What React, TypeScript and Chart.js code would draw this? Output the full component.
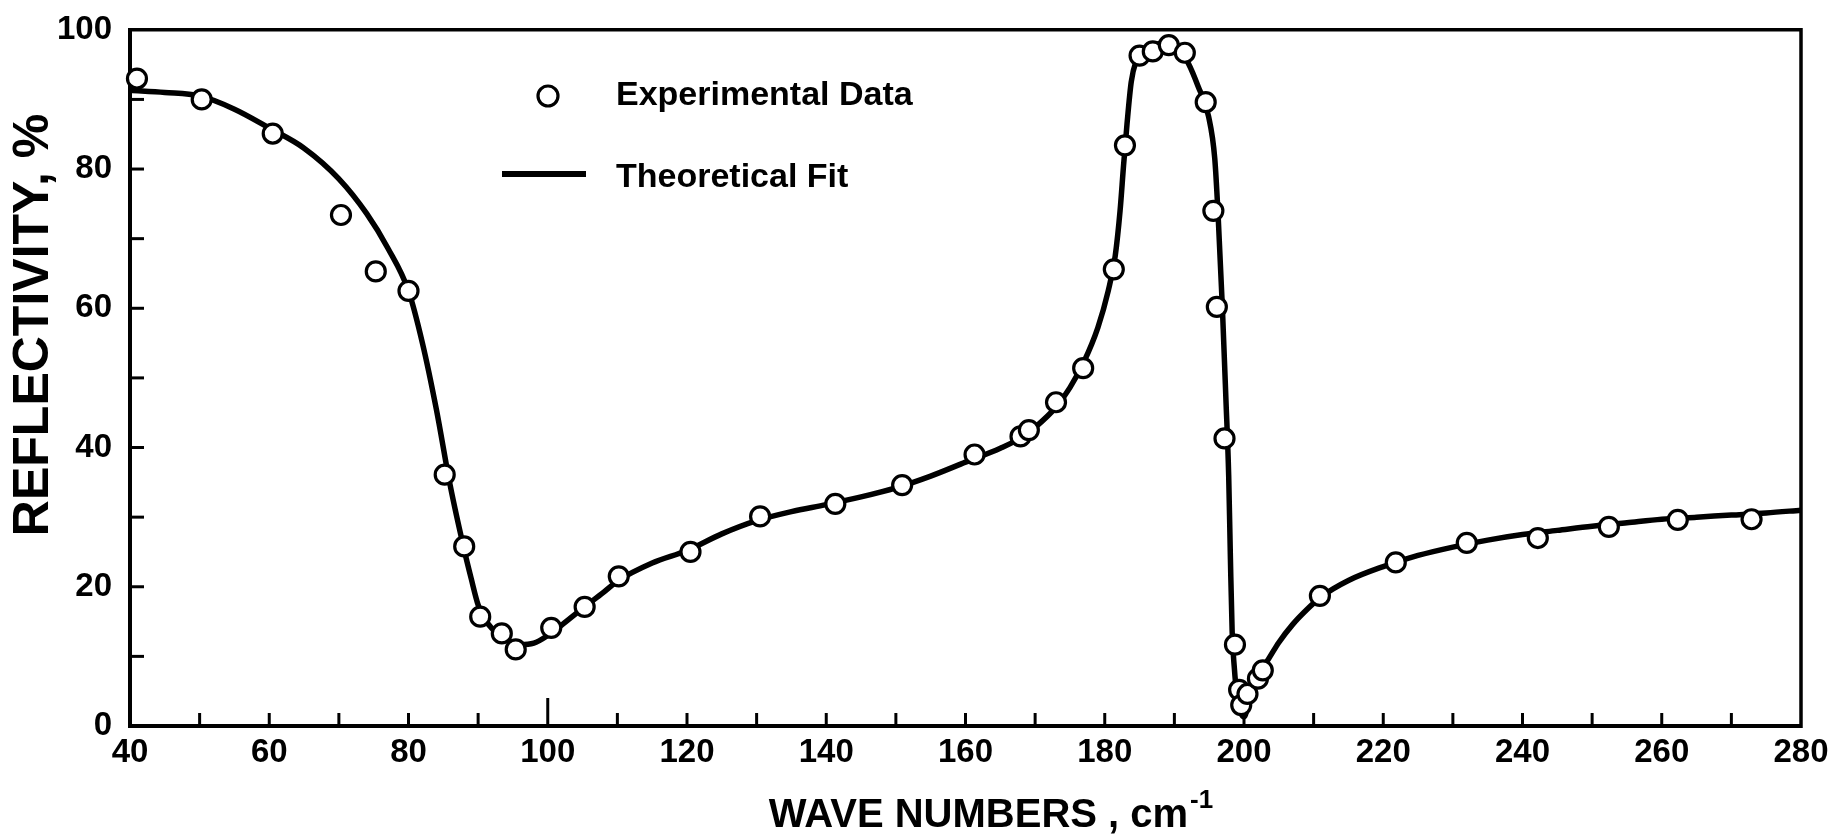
import React, { useEffect, useRef } from 'react';
import { Chart, registerables } from 'chart.js';

Chart.register(...registerables);

// ---- Data ----
const fitX = [
  40, 45, 50, 55, 60, 65, 70, 74, 77, 80, 82, 84, 86, 88, 89, 90, 91, 92, 94, 96, 98, 100, 102,
  105, 108, 110, 115, 120, 125, 130, 135, 140, 145, 150, 155, 160, 165, 168, 170, 173, 175, 177,
  179, 180.5, 181.5, 182.2, 182.7, 183.2, 183.8, 184.5, 185.5, 187, 189, 190.5, 192, 193.4, 194.9,
  195.8, 196.3, 196.9, 197.4, 197.8, 198.05, 198.3, 198.6, 199.0, 199.5, 200.0, 200.6, 201.3,
  202.3, 203.5, 205, 207, 209, 211, 215, 220, 225, 230, 235, 240, 245, 250, 255, 260, 265, 270,
  275, 280,
];
const fitY = [
  91.3, 91.0, 90.5, 88.6, 85.9, 83.0, 78.6, 73.6, 68.7, 62.5, 55.0, 45.5, 34.5, 25.3, 21.2, 17.4,
  15.3, 14.0, 12.4, 11.7, 11.9, 13.0, 14.5, 16.9, 19.2, 20.8, 23.4, 25.2, 27.6, 29.5, 30.8, 31.8,
  32.9, 34.2, 35.9, 37.9, 39.9, 41.4, 42.9, 45.8, 48.6, 52.3, 57.2, 62.5, 67.5, 74.0, 80.5, 86.5,
  92.5, 95.5, 96.9, 97.7, 98.3, 97.5, 95.2, 91.9, 87.6, 81.5, 73.0, 60.0, 47.0, 36.0, 24.0, 13.5,
  8.5, 4.2, 2.0, 1.3, 3.0, 5.8, 7.9, 9.6, 12.0, 14.6, 16.7, 18.5, 20.9, 22.9, 24.5, 25.7, 26.7,
  27.5, 28.1, 28.7, 29.2, 29.7, 30.0, 30.3, 30.6, 31.0,
];
const expX = [
  41.0, 50.3, 60.5, 70.3, 75.3, 80.0, 85.2, 88.0, 90.3, 93.4, 95.4, 100.5, 105.3, 110.2, 120.5,
  130.5, 141.3, 150.9, 161.3, 167.9, 169.1, 173.0, 176.9, 181.3, 182.9, 185.0, 186.9, 189.2,
  191.5, 194.5, 195.6, 196.1, 197.2, 198.7, 199.3, 199.6, 200.5, 202.0, 202.7, 210.9, 221.8,
  232.0, 242.2, 252.4, 262.3, 272.9,
];
const expY = [
  93.0, 90.0, 85.1, 73.4, 65.3, 62.5, 36.1, 25.8, 15.7, 13.3, 11.0, 14.1, 17.1, 21.5, 25.0,
  30.1, 31.9, 34.6, 39.0, 41.6, 42.5, 46.5, 51.4, 65.6, 83.4, 96.3, 96.9, 97.8, 96.7, 89.6,
  74.0, 60.2, 41.3, 11.7, 5.2, 3.0, 4.6, 6.8, 8.0, 18.7, 23.5, 26.3, 27.0, 28.6, 29.6, 29.7,
];
const seriesLabels = ['Experimental Data', 'Theoretical Fit'];
const xTitle = 'WAVE NUMBERS , cm';
const xTitleSup = '-1';
const yTitle = 'REFLECTIVITY, %';
const xMinorTicks = [50, 60, 70, 80, 90, 100, 110, 120, 130, 140, 150, 160, 170, 180, 190, 200, 210, 220, 230, 240, 250, 260, 270];
const yMinorTicks = [10, 20, 30, 40, 50, 60, 70, 80, 90];

const W = 1845;
const H = 839;
const FONT = "'Liberation Sans', Arial, sans-serif";

const decorPlugin = {
  id: 'decor',
  beforeDatasetsDraw(chart: any) {
    const { ctx, chartArea: a, scales } = chart;
    const xs = scales.x;
    const ys = scales.y;
    ctx.save();
    ctx.strokeStyle = '#000';
    ctx.lineCap = 'butt';
    ctx.lineWidth = 3.5;
    ctx.beginPath();
    ctx.moveTo(a.left - 2, a.top);
    ctx.lineTo(a.right, a.top);
    ctx.lineTo(a.right, a.bottom + 2);
    ctx.stroke();
    ctx.lineWidth = 3;
    for (const v of xMinorTicks) {
      const px = xs.getPixelForValue(v);
      const len = v === 100 ? 28 : 13;
      ctx.beginPath();
      ctx.moveTo(px, a.bottom);
      ctx.lineTo(px, a.bottom - len);
      ctx.stroke();
    }
    for (const v of yMinorTicks) {
      const py = ys.getPixelForValue(v);
      ctx.beginPath();
      ctx.moveTo(a.left, py);
      ctx.lineTo(a.left + 14, py);
      ctx.stroke();
    }
    ctx.restore();
  },
  afterDraw(chart: any) {
    const { ctx } = chart;
    const ds0 = chart.data.datasets[0];
    const ds1 = chart.data.datasets[1];
    ctx.save();
    ctx.fillStyle = '#000';
    // Y title
    ctx.save();
    ctx.translate(34, 325);
    ctx.rotate(-Math.PI / 2);
    ctx.font = `bold 50px ${FONT}`;
    ctx.textAlign = 'center';
    ctx.textBaseline = 'middle';
    ctx.fillText(yTitle, 0, 0);
    ctx.restore();
    // X title with superscript
    ctx.font = `bold 40px ${FONT}`;
    const mainW = ctx.measureText(xTitle).width;
    ctx.font = `bold 26px ${FONT}`;
    const supW = ctx.measureText(xTitleSup).width;
    const startX = 991 - (mainW + supW + 2) / 2;
    ctx.textAlign = 'left';
    ctx.textBaseline = 'alphabetic';
    ctx.font = `bold 40px ${FONT}`;
    ctx.fillText(xTitle, startX, 827);
    ctx.font = `bold 26px ${FONT}`;
    ctx.fillText(xTitleSup, startX + mainW + 2, 808);
    // Legend
    ctx.beginPath();
    ctx.arc(548, 96, ds0.pointRadius + 0.5, 0, Math.PI * 2);
    ctx.fillStyle = ds0.pointBackgroundColor;
    ctx.fill();
    ctx.lineWidth = ds0.pointBorderWidth;
    ctx.strokeStyle = ds0.pointBorderColor;
    ctx.stroke();
    ctx.beginPath();
    ctx.moveTo(502, 174);
    ctx.lineTo(586, 174);
    ctx.lineWidth = 6;
    ctx.strokeStyle = ds1.borderColor;
    ctx.stroke();
    ctx.fillStyle = '#000';
    ctx.font = `bold 34px ${FONT}`;
    ctx.textAlign = 'left';
    ctx.fillText(seriesLabels[0], 616, 105);
    ctx.fillText(seriesLabels[1], 616, 187);
    ctx.restore();
  },
};

export default function App() {
  const ref = useRef<HTMLCanvasElement | null>(null);
  useEffect(() => {
    if (!ref.current) return;
    const expData = expX.map((x, i) => ({ x, y: expY[i] }));
    const fitData = fitX.map((x, i) => ({ x, y: fitY[i] }));
    const tickFont = { family: FONT, size: 33, weight: 'bold' as const };
    const chart = new Chart(ref.current, {
      type: 'scatter',
      data: {
        datasets: [
          {
            label: seriesLabels[0],
            data: expData,
            showLine: false,
            pointRadius: 9.5,
            pointHoverRadius: 9.5,
            pointBackgroundColor: '#ffffff',
            pointBorderColor: '#000000',
            pointBorderWidth: 3.2,
            clip: false,
            order: 0,
          } as any,
          {
            label: seriesLabels[1],
            data: fitData,
            showLine: true,
            pointRadius: 0,
            pointHoverRadius: 0,
            borderColor: '#000000',
            backgroundColor: '#000000',
            borderWidth: 5.5,
            cubicInterpolationMode: 'monotone',
            order: 1,
          } as any,
        ],
      },
      options: {
        responsive: false,
        animation: false,
        devicePixelRatio: 1,
        events: [],
        layout: { padding: { left: 0, top: 24, right: W - 1801, bottom: 0 } },
        plugins: {
          legend: { display: false },
          tooltip: { enabled: false },
          title: { display: false },
        },
        scales: {
          x: {
            type: 'linear',
            min: 40,
            max: 280,
            grid: { display: false },
            border: { display: true, color: '#000', width: 4 },
            ticks: { stepSize: 20, color: '#000', font: tickFont, padding: -1, maxRotation: 0, autoSkip: false },
            afterFit: (s: any) => { s.height = H - 726; },
          },
          y: {
            type: 'linear',
            min: 0,
            max: 100,
            grid: { display: false },
            border: { display: true, color: '#000', width: 4 },
            ticks: { stepSize: 20, color: '#000', font: tickFont, padding: 10, autoSkip: false },
            afterFit: (s: any) => { s.width = 130; },
          },
        },
      },
      plugins: [decorPlugin],
    });
    return () => chart.destroy();
  }, []);
  return (
    <div style={{ position: 'fixed', left: 0, top: 0, width: W, height: H, background: '#fff' }}>
      <canvas ref={ref} width={W} height={H} style={{ width: W, height: H, display: 'block' }} />
    </div>
  );
}
